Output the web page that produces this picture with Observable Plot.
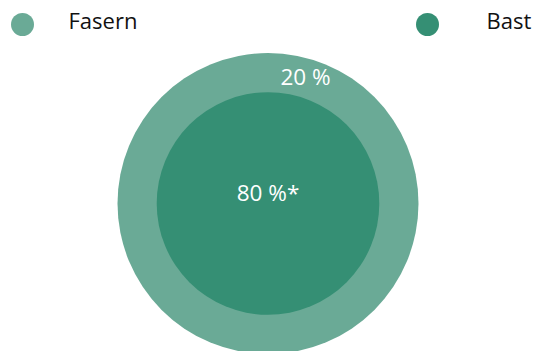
<!DOCTYPE html>
<html>
<head>
<meta charset="utf-8">
<script src="https://cdn.jsdelivr.net/npm/d3@7"></script>
<script src="https://cdn.jsdelivr.net/npm/@observablehq/plot@0.6"></script>
<style>
  html, body { margin: 0; padding: 0; background: #fff; }
  body { width: 533px; height: 351px; overflow: hidden; font-family: "Open Sans", sans-serif; }
  #legend { position: relative; width: 533px; height: 46px; }
  #legend .sw { position: absolute; width: 23px; height: 23px; border-radius: 50%; top: 12.5px; }
  #legend .lb { position: absolute; font-size: 22px; line-height: 22px; top: 8.5px; color: #111; white-space: nowrap; }
  #chart svg { display: block; }
</style>
</head>
<body>
<div id="legend"></div>
<div id="chart"></div>
<script>
// Data
const categories = ["Fasern", "Bast"];
const values = [20, 80];
const notes = ["", "*"];
const colors = ["#6aaa96", "#358f74"];

const rows = categories.map((c, i) => ({ category: c, value: values[i], label: `${values[i]} %${notes[i]}` }));

// Legend (HTML, above the SVG)
const legend = document.getElementById("legend");
const legendPos = [{ sw: 10.5, lb: 68.5 }, { sw: 416, lb: 486.5 }];
categories.forEach((c, i) => {
  const sw = document.createElement("div");
  sw.className = "sw";
  sw.style.left = legendPos[i].sw + "px";
  sw.style.background = colors[i];
  legend.appendChild(sw);
  const lb = document.createElement("div");
  lb.className = "lb";
  lb.style.left = legendPos[i].lb + "px";
  lb.textContent = c;
  legend.appendChild(lb);
});

const outer = rows.filter(d => d.category === "Fasern");
const inner = rows.filter(d => d.category === "Bast");

const chart = Plot.plot({
  width: 533,
  height: 305,
  marginTop: 9,
  marginBottom: 0,
  marginLeft: 2,
  marginRight: 0,
  style: { fontFamily: "Open Sans, sans-serif", background: "transparent", overflow: "visible" },
  color: { domain: categories, range: colors },
  marks: [
    Plot.dot(outer, { fill: "category", r: 150.5, frameAnchor: "middle" }),
    Plot.dot(inner, { fill: "category", r: 111.3, frameAnchor: "middle" }),
    Plot.text(outer, { text: "label", frameAnchor: "middle", dx: 37.5, dy: -125.5, fill: "white", fontSize: 22.5 }),
    Plot.text(inner, { text: "label", frameAnchor: "middle", dx: 0, dy: -10, fill: "white", fontSize: 22.5 })
  ]
});
document.getElementById("chart").appendChild(chart);
</script>
</body>
</html>
